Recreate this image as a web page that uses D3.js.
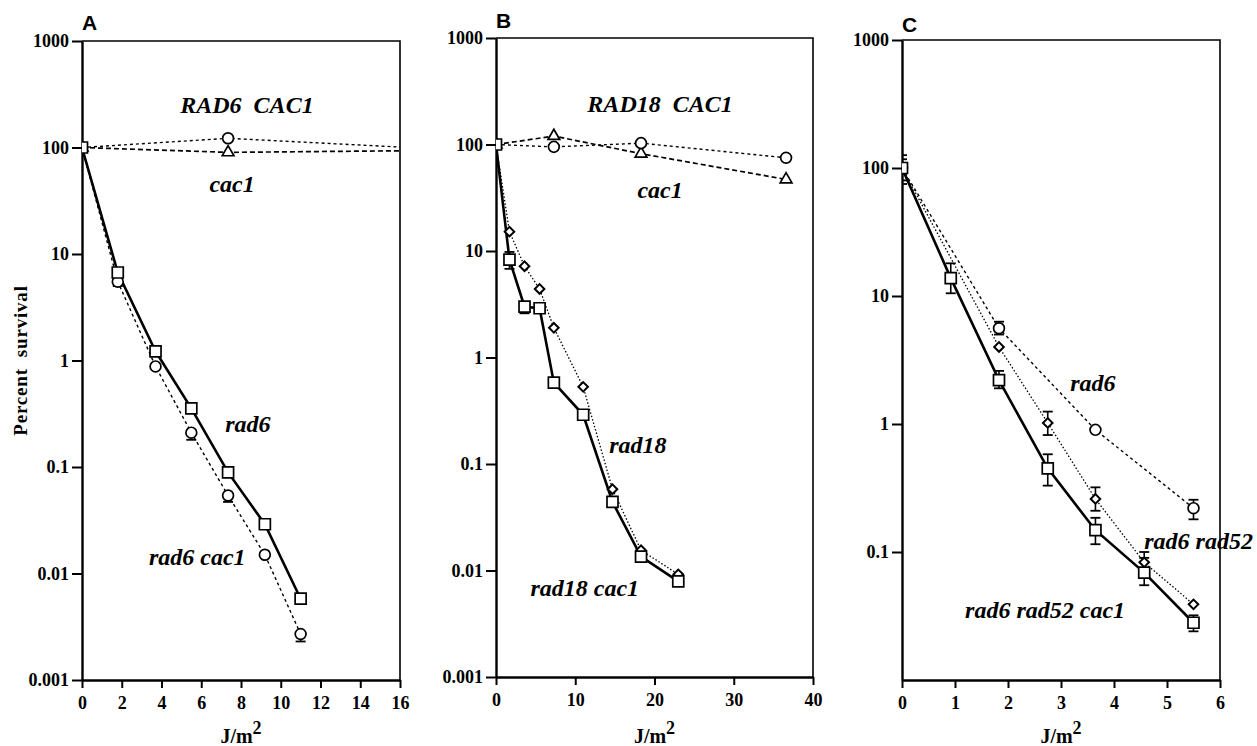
<!DOCTYPE html>
<html>
<head>
<meta charset="utf-8">
<script src="https://cdn.jsdelivr.net/npm/d3@7"></script>
<style>
  body { margin: 0; background: #fff; }
  svg { display: block; }
  .note { font-family: "Liberation Serif", "Times New Roman", serif; font-weight: bold; font-style: italic; font-size: 24px; fill: #000; white-space: pre; }
  .axis-title { font-family: "Liberation Serif", "Times New Roman", serif; font-weight: bold; fill: #000; white-space: pre; }
  .panel-letter { font-family: "Liberation Sans", Arial, sans-serif; font-weight: bold; font-size: 21px; fill: #000; }
</style>
</head>
<body>
<div class="chart"></div>
<script>
"use strict";

// ---- data ----
const yTicksAB = [0.001, 0.01, 0.1, 1, 10, 100, 1000];
const yTicksC = [0.1, 1, 10, 100, 1000];
const xTicksA = [0, 2, 4, 6, 8, 10, 12, 14, 16];
const xTicksB = [0, 10, 20, 30, 40];
const xTicksC = [0, 1, 2, 3, 4, 5, 6];

// Panel A
const doseA = [0, 1.8, 3.7, 5.5, 7.35, 9.2, 11];
const rad6A = [100, 6.7, 1.22, 0.355, 0.089, 0.029, 0.0058];
const rad6cac1A = [100, 5.5, 0.88, 0.21, 0.054, 0.015, 0.0027];
const rad6cac1A_lo = [null, 5.0, null, 0.18, 0.047, null, 0.0023];
const doseWtA = [0, 7.35, 18.3];
const RAD6CAC1A = [100, 122, 96];
const cac1A = [100, 90, 94];

// Panel B
const doseB = [0, 1.7, 3.6, 5.5, 7.3, 11, 14.7, 18.3, 23];
const rad18B = [100, 15.2, 7.2, 4.4, 1.9, 0.53, 0.058, 0.0155, 0.0092];
const rad18cac1B = [100, 8.3, 3.0, 2.9, 0.58, 0.29, 0.044, 0.0135, 0.0079];
const rad18cac1B_lo = [null, 6.8, 2.6, null, null, null, null, null, null];
const rad18cac1B_hi = [null, 9.8, null, null, null, null, null, null, null];
const doseWtB = [0, 7.3, 18.3, 36.6];
const RAD18CAC1B = [100, 95, 103, 75];
const cac1B = [100, 120, 82, 47];

// Panel C
const doseC = [0, 0.92, 1.83, 2.75, 3.65, 4.57, 5.5];
const rad6rad52cac1C = [100, 13.8, 2.2, 0.45, 0.148, 0.069, 0.028];
const rad6rad52cac1C_lo = [75, 10.5, 1.9, 0.33, 0.115, 0.055, 0.024];
const rad6rad52cac1C_hi = [126, 18, 2.6, 0.58, 0.185, 0.09, 0.032];
const doseC_rad52 = [0, 1.83, 2.75, 3.65, 4.57, 5.5];
const rad6rad52C = [100, 4.0, 1.02, 0.26, 0.083, 0.039];
const rad6rad52C_lo = [null, null, 0.82, 0.21, 0.075, null];
const rad6rad52C_hi = [null, null, 1.25, 0.32, 0.1, null];
const doseC_rad6 = [0, 1.83, 3.65, 5.5];
const rad6C = [100, 5.6, 0.9, 0.22];
const rad6C_lo = [80, 5.0, null, 0.18];
const rad6C_hi = [117, 6.3, null, 0.256];

// ---- line and marker styles ----
const lineStyles = {
    solid:  {width: 2.6, dash: null},
    dashed: {width: 1.7, dash: "5,3"},
    short:  {width: 1.4, dash: "3,3"},
    dotted: {width: 1.3, dash: "1.5,2"}
};

const markerPath = {
    square:   d3.symbol(d3.symbolSquare, 121)(),
    circle:   d3.symbol(d3.symbolCircle, 92)(),
    triangle: d3.symbol(d3.symbolTriangle, 60)(),
    diamond:  d3.symbol(d3.symbolSquare, 46)()
};

function zip(xs, ys, lo, hi){
    return xs.map((x, i) => ({
        x: x, y: ys[i],
        lo: lo ? lo[i] : null,
        hi: hi ? hi[i] : null
    }));
}

const panels = [
    {
        letter: "A", letterY: 30,
        box: {left: 82, right: 400, top: 41, bottom: 680},
        xDomain: [0, 16], xTicks: xTicksA,
        yDomain: [0.001, 1000], yTicks: yTicksAB,
        series: [
            {pts: zip(doseWtA, cac1A), line: "dashed", marker: "triangle"},
            {pts: zip(doseWtA, RAD6CAC1A), line: "short", marker: "circle"},
            {pts: zip(doseA, rad6cac1A, rad6cac1A_lo), line: "short", marker: "circle"},
            {pts: zip(doseA, rad6A), line: "solid", marker: "square"}
        ],
        notes: [
            {text: "RAD6  CAC1", x: 8.3, y: 209},
            {text: "cac1", x: 7.55, y: 38},
            {text: "rad6", x: 8.35, y: 0.211},
            {text: "rad6 cac1", x: 5.8, y: 0.0119}
        ],
        yTitle: true
    },
    {
        letter: "B", letterY: 28,
        box: {left: 496, right: 813, top: 38, bottom: 677},
        xDomain: [0, 40], xTicks: xTicksB,
        yDomain: [0.001, 1000], yTicks: yTicksAB,
        series: [
            {pts: zip(doseWtB, cac1B), line: "dashed", marker: "triangle"},
            {pts: zip(doseWtB, RAD18CAC1B), line: "short", marker: "circle"},
            {pts: zip(doseB, rad18B), line: "dotted", marker: "diamond"},
            {pts: zip(doseB, rad18cac1B, rad18cac1B_lo, rad18cac1B_hi), line: "solid", marker: "square"}
        ],
        notes: [
            {text: "RAD18  CAC1", x: 20.7, y: 204},
            {text: "cac1", x: 20.7, y: 31.6},
            {text: "rad18", x: 17.9, y: 0.128},
            {text: "rad18 cac1", x: 11.2, y: 0.0057}
        ]
    },
    {
        letter: "C", letterY: 32,
        box: {left: 902, right: 1220, top: 40, bottom: 680},
        xDomain: [0, 6], xTicks: xTicksC,
        yDomain: [0.01, 1000], yTicks: yTicksC,
        series: [
            {pts: zip(doseC_rad6, rad6C, rad6C_lo, rad6C_hi), line: "short", marker: "circle"},
            {pts: zip(doseC_rad52, rad6rad52C, rad6rad52C_lo, rad6rad52C_hi), line: "dotted", marker: "diamond"},
            {pts: zip(doseC, rad6rad52cac1C, rad6rad52cac1C_lo, rad6rad52cac1C_hi), line: "solid", marker: "square"}
        ],
        notes: [
            {text: "rad6", x: 3.6, y: 1.81},
            {text: "rad6 rad52", x: 4.57, y: 0.105, anchor: "start"},
            {text: "rad6 rad52 cac1", x: 2.7, y: 0.0305}
        ]
    }
];

const svg = d3.select(".chart")
    .append("svg")
    .attr("width", 1257)
    .attr("height", 746);

svg.append("rect").attr("width", 1257).attr("height", 746).attr("fill", "#fff");

panels.forEach((p, pi) => {
    const b = p.box;
    const x = d3.scaleLinear().domain(p.xDomain).range([b.left, b.right]);
    const y = d3.scaleLog().domain(p.yDomain).range([b.bottom, b.top]);

    const clipId = "clip" + pi;
    svg.append("clipPath").attr("id", clipId)
        .append("rect")
        .attr("x", b.left).attr("y", b.top - 8)
        .attr("width", b.right - b.left).attr("height", b.bottom - b.top + 8);

    // frame: top and right sides
    svg.append("path")
        .attr("d", `M${b.left},${b.top}H${b.right}V${b.bottom}`)
        .attr("fill", "none")
        .attr("stroke", "#000")
        .attr("stroke-width", 1.6);

    // axes
    const yAxis = svg.append("g")
        .attr("transform", `translate(${b.left},0)`)
        .call(d3.axisLeft(y).tickValues(p.yTicks).tickFormat(d => String(d)).tickSize(10).tickPadding(3).tickSizeOuter(0));
    const xAxis = svg.append("g")
        .attr("transform", `translate(0,${b.bottom})`)
        .call(d3.axisBottom(x).tickValues(p.xTicks).tickFormat(d => String(d)).tickSize(8).tickPadding(8).tickSizeOuter(0));
    [yAxis, xAxis].forEach(g => {
        g.attr("font-family", "Liberation Serif, Times New Roman, serif")
            .attr("font-size", 18)
            .attr("font-weight", "bold");
        g.select(".domain").attr("stroke-width", 2.4);
        g.selectAll(".tick line").attr("stroke-width", 2);
        g.selectAll(".tick text").attr("fill", "#000");
    });

    // panel letter
    svg.append("text")
        .attr("class", "panel-letter")
        .attr("x", b.left)
        .attr("y", p.letterY)
        .text(p.letter);

    // x title
    const xt = svg.append("text")
        .attr("class", "axis-title")
        .attr("x", (b.left + b.right) / 2)
        .attr("y", 743)
        .attr("text-anchor", "middle")
        .style("font-size", "20px");
    xt.append("tspan").text("J/m");
    xt.append("tspan").attr("dy", -9).style("font-size", "18px").text("2");

    if (p.yTitle) {
        svg.append("text")
            .attr("class", "axis-title")
            .attr("transform", `translate(27,${(b.top + b.bottom) / 2}) rotate(-90)`)
            .attr("text-anchor", "middle")
            .style("font-size", "19px")
            .style("letter-spacing", "0.8px")
            .text("Percent  survival");
    }

    const plot = svg.append("g").attr("clip-path", `url(#${clipId})`);

    const line = d3.line().x(d => x(d.x)).y(d => y(d.y));

    // lines
    p.series.forEach(s => {
        const st = lineStyles[s.line];
        plot.append("path")
            .datum(s.pts)
            .attr("d", line)
            .attr("fill", "none")
            .attr("stroke", "#000")
            .attr("stroke-width", st.width)
            .attr("stroke-dasharray", st.dash);
    });

    // error bars
    p.series.forEach(s => {
        s.pts.filter(d => d.lo != null || d.hi != null).forEach(d => {
            const cx = x(d.x);
            const top = y(d.hi != null ? d.hi : d.y);
            const bot = y(d.lo != null ? d.lo : d.y);
            plot.append("line")
                .attr("x1", cx).attr("x2", cx)
                .attr("y1", top).attr("y2", bot)
                .attr("stroke", "#000").attr("stroke-width", 1.6);
            [d.lo, d.hi].filter(v => v != null).forEach(v => {
                plot.append("line")
                    .attr("x1", cx - 5).attr("x2", cx + 5)
                    .attr("y1", y(v)).attr("y2", y(v))
                    .attr("stroke", "#000").attr("stroke-width", 1.8);
            });
        });
    });

    // markers
    p.series.forEach(s => {
        plot.selectAll(null)
            .data(s.pts)
            .enter()
            .append("path")
            .attr("d", markerPath[s.marker])
            .attr("transform", d => `translate(${x(d.x)},${y(d.y)})` + (s.marker === "diamond" ? " rotate(45)" : ""))
            .attr("fill", "#fff")
            .attr("stroke", "#000")
            .attr("stroke-width", s.marker === "diamond" ? 2 : 1.7);
    });

    // annotations
    p.notes.forEach(n => {
        svg.append("text")
            .attr("class", "note")
            .attr("x", x(n.x))
            .attr("y", y(n.y))
            .attr("text-anchor", n.anchor || "middle")
            .text(n.text);
    });
});
</script>
</body>
</html>
